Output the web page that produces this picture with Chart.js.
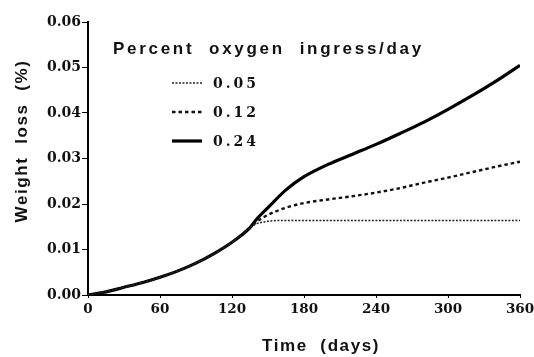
<!DOCTYPE html>
<html>
<head>
<meta charset="utf-8">
<script src="https://cdn.jsdelivr.net/npm/chart.js@4.4.0/dist/chart.umd.min.js"></script>
<style>
  html, body { margin: 0; padding: 0; background: #fff; }
  #wrap { width: 534px; height: 357px; position: relative; }
</style>
</head>
<body>
<div id="wrap"><canvas id="chart"></canvas></div>
<script>
// data
const days = [0, 15, 30, 45, 60, 75, 90, 105, 120, 135, 140, 150, 165, 180, 200, 220, 240, 260, 280, 300, 320, 340, 360];
const loss005 = [0, 0.0007, 0.0017, 0.0027, 0.0039, 0.0053, 0.0070, 0.0091, 0.0116, 0.0148, 0.0156, 0.0162, 0.0164, 0.0164, 0.0164, 0.0164, 0.0164, 0.0164, 0.0164, 0.0164, 0.0164, 0.0164, 0.0164];
const loss012 = [0, 0.0007, 0.0017, 0.0027, 0.0039, 0.0053, 0.0070, 0.0091, 0.0116, 0.0148, 0.0160, 0.0176, 0.0192, 0.0202, 0.0210, 0.0217, 0.0225, 0.0235, 0.0247, 0.0258, 0.0270, 0.0282, 0.0293];
const loss024 = [0, 0.0007, 0.0017, 0.0027, 0.0039, 0.0053, 0.0070, 0.0091, 0.0116, 0.0148, 0.0165, 0.0192, 0.0231, 0.0260, 0.0287, 0.0309, 0.0331, 0.0355, 0.0380, 0.0408, 0.0438, 0.0470, 0.0505];
const seriesLabels = ['0.05', '0.12', '0.24'];
const xTicks = [0, 60, 120, 180, 240, 300, 360];
const yTicks = [0, 0.01, 0.02, 0.03, 0.04, 0.05, 0.06];

const pts = arr => days.map((d, i) => ({ x: d, y: arr[i] }));
const sans = '"Liberation Sans", Arial, sans-serif';
const serif = '"DejaVu Serif", "Liberation Serif", serif';

// legend and axis titles drawn by hand, like the original figure
const figureText = {
    id: 'figureText',
    afterDraw(chart) {
        const c = chart.ctx;
        c.save();
        c.fillStyle = '#111';
        c.textBaseline = 'middle';
        c.textAlign = 'left';
        c.font = 'bold 17px ' + sans;
        c.letterSpacing = '2.7px';
        c.fillText('Percent  oxygen  ingress/day', 113, 49);

        c.font = 'bold 14px ' + serif;
        c.letterSpacing = '3px';
        const rows = [83, 112, 141];
        chart.data.datasets.forEach((ds, i) => {
            c.strokeStyle = ds.borderColor;
            c.lineWidth = ds.borderWidth;
            c.setLineDash(ds.borderDash || []);
            c.beginPath();
            c.moveTo(172, rows[i]);
            c.lineTo(202, rows[i]);
            c.stroke();
            c.fillText(ds.label, 213, rows[i] + 1);
        });

        // axis titles
        c.font = 'bold 17px ' + sans;
        c.letterSpacing = '1.6px';
        c.textAlign = 'center';
        c.fillText('Time  (days)', 321, 346);
        c.translate(22, 141);
        c.rotate(-Math.PI / 2);
        c.fillText('Weight  loss  (%)', 0, 0);
        c.restore();
    }
};

new Chart(document.getElementById('chart'), {
    type: 'line',
    data: {
        datasets: [
            { label: seriesLabels[0], data: pts(loss005), borderColor: '#222', borderWidth: 1.5, borderDash: [2, 1.5] },
            { label: seriesLabels[1], data: pts(loss012), borderColor: '#111', borderWidth: 2.4, borderDash: [3.5, 3] },
            { label: seriesLabels[2], data: pts(loss024), borderColor: '#000', borderWidth: 3.2 }
        ]
    },
    options: {
        responsive: true,
        maintainAspectRatio: false,
        animation: false,
        elements: {
            point: { radius: 0 },
            line: { cubicInterpolationMode: 'monotone', fill: false }
        },
        layout: { padding: { top: 22, right: 14, left: 0, bottom: 0 } },
        plugins: { legend: { display: false }, tooltip: { enabled: false } },
        scales: {
            x: {
                type: 'linear',
                min: 0,
                max: 360,
                afterBuildTicks: s => { s.ticks = xTicks.map(v => ({ value: v })); },
                afterFit: s => { s.height = 62; s.paddingLeft = 0; s.paddingRight = 0; },
                border: { color: '#000', width: 2 },
                grid: { display: true, drawOnChartArea: false, tickLength: 3, color: '#000' },
                ticks: {
                    color: '#111',
                    padding: 3,
                    maxRotation: 0,
                    font: { family: serif, size: 13.5, weight: 'bold' }
                }
            },
            y: {
                min: 0,
                max: 0.06,
                afterBuildTicks: s => { s.ticks = yTicks.map(v => ({ value: v })); },
                afterFit: s => { s.width = 88; s.paddingTop = 0; s.paddingBottom = 0; },
                border: { color: '#000', width: 2 },
                grid: { display: true, drawOnChartArea: false, tickLength: 6, color: '#000' },
                ticks: {
                    color: '#111',
                    padding: 1,
                    callback: v => v.toFixed(2),
                    font: { family: serif, size: 14, weight: 'bold' }
                }
            }
        }
    },
    plugins: [figureText]
});
</script>
</body>
</html>
